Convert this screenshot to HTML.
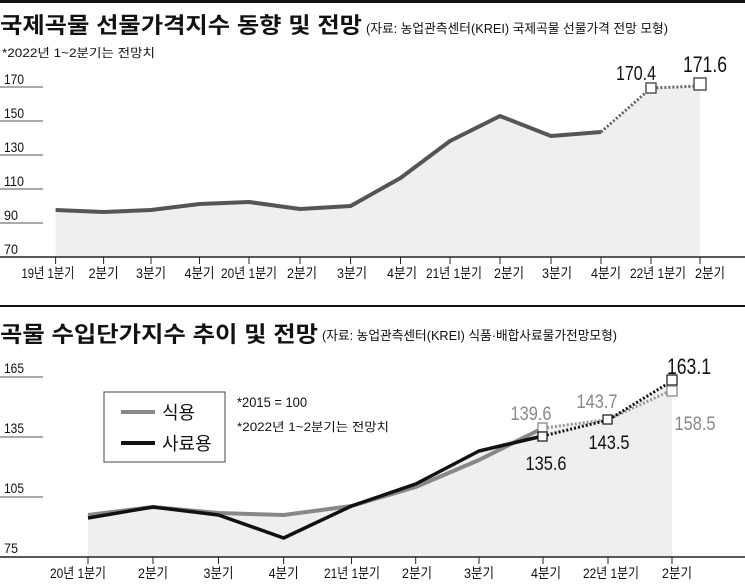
<!DOCTYPE html>
<html><head><meta charset="utf-8"><style>
html,body{margin:0;padding:0;background:#fff;}
text{font-family:"Liberation Sans Narrow","Liberation Sans","Noto Sans CJK KR",sans-serif;}
.k{font-family:"Liberation Sans","Noto Sans CJK KR",sans-serif;}
</style></head><body>
<svg width="745" height="581" viewBox="0 0 745 581" xmlns="http://www.w3.org/2000/svg">
<rect width="745" height="581" fill="#fff"/>
<rect x="0" y="0" width="745" height="3" fill="#111"/>
<text class="k" x="0" y="33" font-size="22" font-weight="bold" textLength="362" lengthAdjust="spacingAndGlyphs" fill="#111">국제곡물 선물가격지수 동향 및 전망</text>
<text class="k" x="366" y="33" font-size="13" textLength="302" lengthAdjust="spacingAndGlyphs" fill="#111">(자료: 농업관측센터(KREI) 국제곡물 선물가격 전망 모형)</text>
<text class="k" x="2" y="57" font-size="12" textLength="153" lengthAdjust="spacingAndGlyphs" fill="#111">*2022년 1~2분기는 전망치</text>
<g fill="#111" font-size="14">
<text x="4" y="84" textLength="20" lengthAdjust="spacingAndGlyphs">170</text><text x="4" y="118" textLength="20" lengthAdjust="spacingAndGlyphs">150</text><text x="4" y="152" textLength="20" lengthAdjust="spacingAndGlyphs">130</text><text x="4" y="186" textLength="20" lengthAdjust="spacingAndGlyphs">110</text><text x="4" y="220" textLength="14" lengthAdjust="spacingAndGlyphs">90</text><text x="4" y="254" textLength="14" lengthAdjust="spacingAndGlyphs">70</text>
</g>
<g stroke="#555" stroke-width="1">
<line x1="0" y1="87" x2="43" y2="87"/><line x1="0" y1="121" x2="43" y2="121"/><line x1="0" y1="155" x2="43" y2="155"/><line x1="0" y1="189" x2="43" y2="189"/><line x1="0" y1="223" x2="43" y2="223"/>
</g>
<polygon fill="#efefef" points="55.6,257 55.6,210 103.6,212 151,210 199.5,204 249,202 300,209 350.6,206 400.5,178 450,141 500,116 551,136 601,132 651,88 700,86 700,257"/>
<line x1="0" y1="257" x2="745" y2="257" stroke="#222" stroke-width="1.5"/>
<g stroke="#222" stroke-width="1">
<line x1="55.6" y1="257" x2="55.6" y2="264"/><line x1="103.6" y1="257" x2="103.6" y2="264"/><line x1="151" y1="257" x2="151" y2="264"/><line x1="199.5" y1="257" x2="199.5" y2="264"/><line x1="249" y1="257" x2="249" y2="264"/><line x1="300" y1="257" x2="300" y2="264"/><line x1="350.6" y1="257" x2="350.6" y2="264"/><line x1="400.5" y1="257" x2="400.5" y2="264"/><line x1="450" y1="257" x2="450" y2="264"/><line x1="500" y1="257" x2="500" y2="264"/><line x1="551" y1="257" x2="551" y2="264"/><line x1="601" y1="257" x2="601" y2="264"/><line x1="651" y1="257" x2="651" y2="264"/><line x1="700" y1="257" x2="700" y2="264"/>
</g>
<polyline fill="none" stroke="#555" stroke-width="4" stroke-linejoin="round" points="55.6,210 103.6,212 151,210 199.5,204 249,202 300,209 350.6,206 400.5,178 450,141 500,116 551,136 601,132"/>
<polyline fill="none" stroke="#666" stroke-width="3" stroke-dasharray="2,2" points="601,132 651,88 700,86"/>
<rect x="646" y="83" width="10" height="10" fill="#fff" stroke="#555" stroke-width="1.5"/>
<rect x="694" y="78" width="12" height="12" fill="#fff" stroke="#555" stroke-width="1.5"/>
<text x="636" y="80" font-size="20" text-anchor="middle" fill="#111" textLength="40" lengthAdjust="spacingAndGlyphs">170.4</text>
<text x="705" y="72" font-size="22" text-anchor="middle" fill="#111" textLength="44" lengthAdjust="spacingAndGlyphs">171.6</text>
<g font-size="14" fill="#111" text-anchor="middle">
<text x="48" y="278" textLength="53" lengthAdjust="spacingAndGlyphs">19년 1분기</text><text x="103.6" y="278" textLength="30" lengthAdjust="spacingAndGlyphs">2분기</text><text x="151" y="278" textLength="30" lengthAdjust="spacingAndGlyphs">3분기</text><text x="199.5" y="278" textLength="30" lengthAdjust="spacingAndGlyphs">4분기</text><text x="249" y="278" textLength="56" lengthAdjust="spacingAndGlyphs">20년 1분기</text><text x="302" y="278" textLength="30" lengthAdjust="spacingAndGlyphs">2분기</text><text x="352" y="278" textLength="30" lengthAdjust="spacingAndGlyphs">3분기</text><text x="402" y="278" textLength="30" lengthAdjust="spacingAndGlyphs">4분기</text><text x="454" y="278" textLength="56" lengthAdjust="spacingAndGlyphs">21년 1분기</text><text x="509" y="278" textLength="30" lengthAdjust="spacingAndGlyphs">2분기</text><text x="557" y="278" textLength="30" lengthAdjust="spacingAndGlyphs">3분기</text><text x="606" y="278" textLength="30" lengthAdjust="spacingAndGlyphs">4분기</text><text x="658" y="278" textLength="56" lengthAdjust="spacingAndGlyphs">22년 1분기</text><text x="710" y="278" textLength="30" lengthAdjust="spacingAndGlyphs">2분기</text>
</g>
<rect x="0" y="305" width="745" height="2" fill="#111"/>
<text class="k" x="0" y="342" font-size="22" font-weight="bold" textLength="318" lengthAdjust="spacingAndGlyphs" fill="#111">곡물 수입단가지수 추이 및 전망</text>
<text class="k" x="322" y="340" font-size="13" textLength="295" lengthAdjust="spacingAndGlyphs" fill="#111">(자료: 농업관측센터(KREI) 식품·배합사료물가전망모형)</text>
<g fill="#111" font-size="14">
<text x="4" y="373" textLength="20" lengthAdjust="spacingAndGlyphs">165</text><text x="4" y="433" textLength="20" lengthAdjust="spacingAndGlyphs">135</text><text x="4" y="493" textLength="20" lengthAdjust="spacingAndGlyphs">105</text><text x="4" y="553" textLength="14" lengthAdjust="spacingAndGlyphs">75</text>
</g>
<g stroke="#555" stroke-width="1">
<line x1="0" y1="377" x2="43" y2="377"/><line x1="0" y1="437" x2="43" y2="437"/><line x1="0" y1="497" x2="43" y2="497"/>
</g>
<polygon fill="#efefef" points="88,557 88,515 153,507 218.5,513 283.6,515 351.5,506 415.7,484 479,451 543,428 608,419.6 672,381 672,557"/>
<line x1="0" y1="557" x2="745" y2="557" stroke="#222" stroke-width="1.5"/>
<g stroke="#222" stroke-width="1">
<line x1="88" y1="557" x2="88" y2="564"/><line x1="153" y1="557" x2="153" y2="564"/><line x1="218.5" y1="557" x2="218.5" y2="564"/><line x1="283.6" y1="557" x2="283.6" y2="564"/><line x1="351.5" y1="557" x2="351.5" y2="564"/><line x1="415.7" y1="557" x2="415.7" y2="564"/><line x1="479" y1="557" x2="479" y2="564"/><line x1="543" y1="557" x2="543" y2="564"/><line x1="608" y1="557" x2="608" y2="564"/><line x1="672" y1="557" x2="672" y2="564"/>
</g>
<polyline fill="none" stroke="#888" stroke-width="4" stroke-linejoin="round" points="88,515 153,507 218.5,513 283.6,515 351.5,506 415.7,487 479,460 543,428"/>
<polyline fill="none" stroke="#999" stroke-width="3" stroke-dasharray="2,2" points="543,428 608,419.6 672,390"/>
<polyline fill="none" stroke="#111" stroke-width="3.5" stroke-linejoin="round" points="88,518 153,507 218.5,515 283.6,538 351.5,506 415.7,484 479,451 543,436"/>
<polyline fill="none" stroke="#111" stroke-width="3" stroke-dasharray="2,2" points="543,436 608,420 672,381"/>
<g fill="#fff" stroke-width="1.3">
<rect x="538" y="423" width="9" height="9" stroke="#888"/>
<rect x="538" y="432" width="9" height="9" stroke="#222"/>
<rect x="603" y="415" width="9" height="9" stroke="#222"/>
<rect x="667" y="375" width="10" height="10" stroke="#222"/>
<rect x="667" y="386" width="10" height="10" stroke="#888"/>
</g>
<text x="531" y="420" font-size="19" text-anchor="middle" fill="#888" textLength="41" lengthAdjust="spacingAndGlyphs">139.6</text>
<text x="597" y="408" font-size="19" text-anchor="middle" fill="#888" textLength="41" lengthAdjust="spacingAndGlyphs">143.7</text>
<text x="695" y="430" font-size="19" text-anchor="middle" fill="#888" textLength="41" lengthAdjust="spacingAndGlyphs">158.5</text>
<text x="689" y="374" font-size="22" text-anchor="middle" fill="#111" textLength="44" lengthAdjust="spacingAndGlyphs">163.1</text>
<text x="609" y="449" font-size="19" text-anchor="middle" fill="#111" textLength="41" lengthAdjust="spacingAndGlyphs">143.5</text>
<text x="546" y="470" font-size="19" text-anchor="middle" fill="#111" textLength="41" lengthAdjust="spacingAndGlyphs">135.6</text>
<rect x="104" y="392" width="121" height="70" fill="#fff" stroke="#444" stroke-width="1"/>
<line x1="121" y1="412" x2="155" y2="412" stroke="#888" stroke-width="4"/>
<line x1="121" y1="443" x2="155" y2="443" stroke="#111" stroke-width="4"/>
<text class="k" x="162" y="419" font-size="18" fill="#111">식용</text>
<text class="k" x="162" y="450" font-size="18" fill="#111">사료용</text>
<text x="237" y="407" font-size="14" fill="#111" textLength="70" lengthAdjust="spacingAndGlyphs">*2015 = 100</text>
<text class="k" x="237" y="431" font-size="12" textLength="152" lengthAdjust="spacingAndGlyphs" fill="#111">*2022년 1~2분기는 전망치</text>
<g font-size="14" fill="#111" text-anchor="middle">
<text x="78" y="578" textLength="56" lengthAdjust="spacingAndGlyphs">20년 1분기</text><text x="153" y="578" textLength="30" lengthAdjust="spacingAndGlyphs">2분기</text><text x="218.5" y="578" textLength="30" lengthAdjust="spacingAndGlyphs">3분기</text><text x="283.6" y="578" textLength="30" lengthAdjust="spacingAndGlyphs">4분기</text><text x="352" y="578" textLength="56" lengthAdjust="spacingAndGlyphs">21년 1분기</text><text x="417" y="578" textLength="30" lengthAdjust="spacingAndGlyphs">2분기</text><text x="479" y="578" textLength="30" lengthAdjust="spacingAndGlyphs">3분기</text><text x="546" y="578" textLength="30" lengthAdjust="spacingAndGlyphs">4분기</text><text x="611" y="578" textLength="56" lengthAdjust="spacingAndGlyphs">22년 1분기</text><text x="677" y="578" textLength="30" lengthAdjust="spacingAndGlyphs">2분기</text>
</g>
</svg>
</body></html>
